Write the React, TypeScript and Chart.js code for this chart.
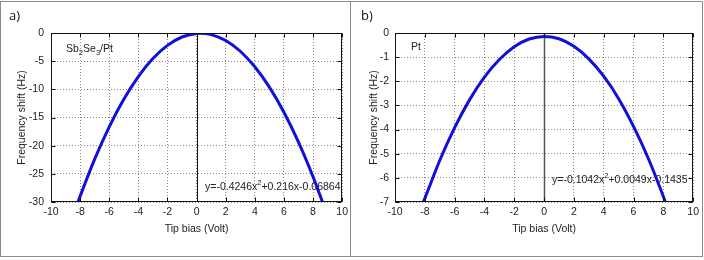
import React, { useEffect, useRef } from "react";
import { Chart, registerables } from "chart.js";

Chart.register(...registerables);

const FONT = "'Liberation Sans', Arial, Helvetica, sans-serif";
const TEXT = "#222";

// Shared x axis (tip bias, Volt)
const biasMin = -10;
const biasMax = 10;
const biasStep = 2;

// Panel a) Sb2Se3/Pt
const aBias = [-8.15, -8, -7, -6, -5, -4, -3, -2, -1, 0, 0.25, 1, 2, 3, 4, 5, 6, 7, 8, 8.65];
const aShift = [-30, -28.97, -22.39, -16.65, -11.76, -7.73, -4.54, -2.2, -0.71, -0.07, -0.04, -0.28, -1.34, -3.24, -6.0, -9.6, -14.06, -19.36, -25.51, -30];
const aShiftMin = -30;
const aShiftMax = 0;
const aShiftStep = 5;

// Panel b) Pt
const bBias = [-8.1, -8, -7, -6, -5, -4, -3, -2, -1, 0, 1, 2, 3, 4, 5, 6, 7, 8, 8.12];
const bShift = [-7.0, -6.85, -5.28, -3.92, -2.77, -1.83, -1.1, -0.57, -0.25, -0.14, -0.24, -0.55, -1.07, -1.79, -2.72, -3.87, -5.21, -6.77, -6.97];
const bShiftMin = -7;
const bShiftMax = 0;
const bShiftStep = 1;

type Seg = { t: string; v?: "sup" | "sub" };
const aTag: Seg[] = [{ t: "Sb" }, { t: "2", v: "sub" }, { t: "Se" }, { t: "3", v: "sub" }, { t: "/Pt" }];
const aFit: Seg[] = [{ t: "y=-0.4246x" }, { t: "2", v: "sup" }, { t: "+0.216x-0.06864" }];
const bTag: Seg[] = [{ t: "Pt" }];
const bFit: Seg[] = [{ t: "y=-0.1042x" }, { t: "2", v: "sup" }, { t: "+0.0049x-0.1435" }];

const xTitle = "Tip bias (Volt)";
const yTitle = "Frequency shift (Hz)";

function drawRich(ctx: CanvasRenderingContext2D, segs: Seg[], x: number, y: number, size: number) {
  let cx = x;
  ctx.textAlign = "left";
  ctx.textBaseline = "alphabetic";
  ctx.fillStyle = TEXT;
  for (const s of segs) {
    const sz = s.v ? size * 0.72 : size;
    const dy = s.v === "sup" ? -size * 0.42 : s.v === "sub" ? size * 0.3 : 0;
    ctx.font = `${sz}px ${FONT}`;
    ctx.fillText(s.t, cx, y + dy);
    cx += ctx.measureText(s.t).width;
  }
}

type PanelProps = {
  left: number;
  canvasWidth: number;
  clipWidth: number;
  name: string;
  xs: number[];
  ys: number[];
  yMin: number;
  yMax: number;
  yStep: number;
  tag: Seg[];
  fit: Seg[];
  tagPos: [number, number];
  fitPos: [number, number];
  yAxisWidth: number;
  yTickPad: number;
  zeroColor: string;
  zeroWidth: number;
};

function Panel(p: PanelProps) {
  const ref = useRef<HTMLCanvasElement | null>(null);
  useEffect(() => {
    if (!ref.current) return;
    const font = { family: FONT, size: 10.5 };
    const decor = {
      id: "decor",
      beforeDatasetsDraw(chart: any) {
        const { ctx, chartArea: ca, scales } = chart;
        ctx.save();
        const x0 = Math.round(scales.x.getPixelForValue(0)) + 0.5;
        ctx.strokeStyle = p.zeroColor;
        ctx.lineWidth = p.zeroWidth;
        ctx.beginPath();
        ctx.moveTo(x0, ca.top);
        ctx.lineTo(x0, ca.bottom);
        ctx.stroke();
        drawRich(ctx, p.tag, ca.left + p.tagPos[0], ca.top + p.tagPos[1], 10.5);
        drawRich(ctx, p.fit, ca.left + p.fitPos[0], ca.top + p.fitPos[1], 10.5);
        ctx.restore();
      },
      afterDatasetsDraw(chart: any) {
        const { ctx, chartArea: ca, scales } = chart;
        ctx.save();
        ctx.strokeStyle = "#111";
        ctx.lineWidth = 1;
        const L = Math.round(ca.left) + 0.5;
        const R = Math.round(ca.right) - 0.5;
        const T = Math.round(ca.top) + 0.5;
        const B = Math.round(ca.bottom) - 0.5;
        ctx.beginPath();
        for (const t of scales.x.ticks) {
          const px = Math.round(scales.x.getPixelForValue(t.value)) + 0.5;
          ctx.moveTo(px, B);
          ctx.lineTo(px, B - 4);
          ctx.moveTo(px, T);
          ctx.lineTo(px, T + 4);
        }
        for (const t of scales.y.ticks) {
          const py = Math.round(scales.y.getPixelForValue(t.value)) + 0.5;
          ctx.moveTo(L, py);
          ctx.lineTo(L + 4, py);
          ctx.moveTo(R, py);
          ctx.lineTo(R - 4, py);
        }
        ctx.stroke();
        ctx.strokeRect(L, T, R - L, B - T);
        ctx.font = `13px 'Open Sans', ${FONT}`;
        ctx.fillStyle = "#111";
        ctx.textAlign = "left";
        ctx.textBaseline = "alphabetic";
        ctx.fillText(p.name, 9, 19.5);
        ctx.restore();
      },
    };
    const chart = new Chart(ref.current, {
      type: "line",
      data: {
        datasets: [
          {
            data: p.xs.map((x, i) => ({ x, y: p.ys[i] })),
            borderColor: "#1010d8",
            borderWidth: 3,
            pointRadius: 0,
            cubicInterpolationMode: "monotone",
            fill: false,
          },
        ],
      },
      options: {
        animation: false,
        responsive: false,
        events: [],
        layout: { padding: { top: 33, right: 8, bottom: 0, left: 0 } },
        plugins: { legend: { display: false }, tooltip: { enabled: false } },
        scales: {
          x: {
            type: "linear",
            min: biasMin,
            max: biasMax,
            ticks: { stepSize: biasStep, padding: 4, font, color: TEXT, autoSkip: false, maxRotation: 0 },
            grid: { color: "#8a8a8a", drawTicks: false, lineWidth: 1 },
            border: { display: false, dash: [1, 2] },
            title: { display: true, text: xTitle, font, color: TEXT, padding: { top: 0, bottom: 23 } },
            afterFit: (s: any) => {
              s.height = 56;
            },
          },
          y: {
            type: "linear",
            min: p.yMin,
            max: p.yMax,
            ticks: { stepSize: p.yStep, padding: p.yTickPad, font, color: TEXT, autoSkip: false },
            grid: { color: "#8a8a8a", drawTicks: false, lineWidth: 1 },
            border: { display: false, dash: [1, 2] },
            title: { display: true, text: yTitle, font, color: TEXT, padding: { top: 16, bottom: 0 } },
            afterFit: (s: any) => {
              s.width = p.yAxisWidth;
            },
          },
        },
      },
      plugins: [decor],
    } as any);
    return () => chart.destroy();
  }, []);
  return (
    <div style={{ position: "absolute", left: p.left, top: 0, width: p.clipWidth, height: 258, overflow: "hidden" }}>
      <canvas ref={ref} width={p.canvasWidth} height={258} style={{ display: "block", width: p.canvasWidth, height: 258 }} />
    </div>
  );
}

export default function App() {
  const line = "#8a8a8a";
  return (
    <div style={{ position: "fixed", left: 0, top: 0, width: 704, height: 260, background: "#fff", overflow: "hidden" }}>
      <Panel
        left={0}
        canvasWidth={352}
        clipWidth={348}
        name="a)"
        xs={aBias}
        ys={aShift}
        yMin={aShiftMin}
        yMax={aShiftMax}
        yStep={aShiftStep}
        tag={aTag}
        fit={aFit}
        tagPos={[15, 19]}
        fitPos={[154, 156.5]}
        yAxisWidth={51}
        yTickPad={7}
        zeroColor="#111"
        zeroWidth={1}
      />
      <Panel
        left={352}
        canvasWidth={351}
        clipWidth={348}
        name="b)"
        xs={bBias}
        ys={bShift}
        yMin={bShiftMin}
        yMax={bShiftMax}
        yStep={bShiftStep}
        tag={bTag}
        fit={bFit}
        tagPos={[16, 17]}
        fitPos={[157, 149.5]}
        yAxisWidth={43}
        yTickPad={6}
        zeroColor="#555"
        zeroWidth={1.5}
      />
      <div style={{ position: "absolute", left: 0, top: 1, width: 703, height: 1, background: line }} />
      <div style={{ position: "absolute", left: 0, top: 256, width: 703, height: 1, background: line }} />
      <div style={{ position: "absolute", left: 0, top: 1, width: 1, height: 256, background: line }} />
      <div style={{ position: "absolute", left: 350, top: 1, width: 1, height: 256, background: line }} />
      <div style={{ position: "absolute", left: 702, top: 1, width: 1, height: 256, background: line }} />
    </div>
  );
}
